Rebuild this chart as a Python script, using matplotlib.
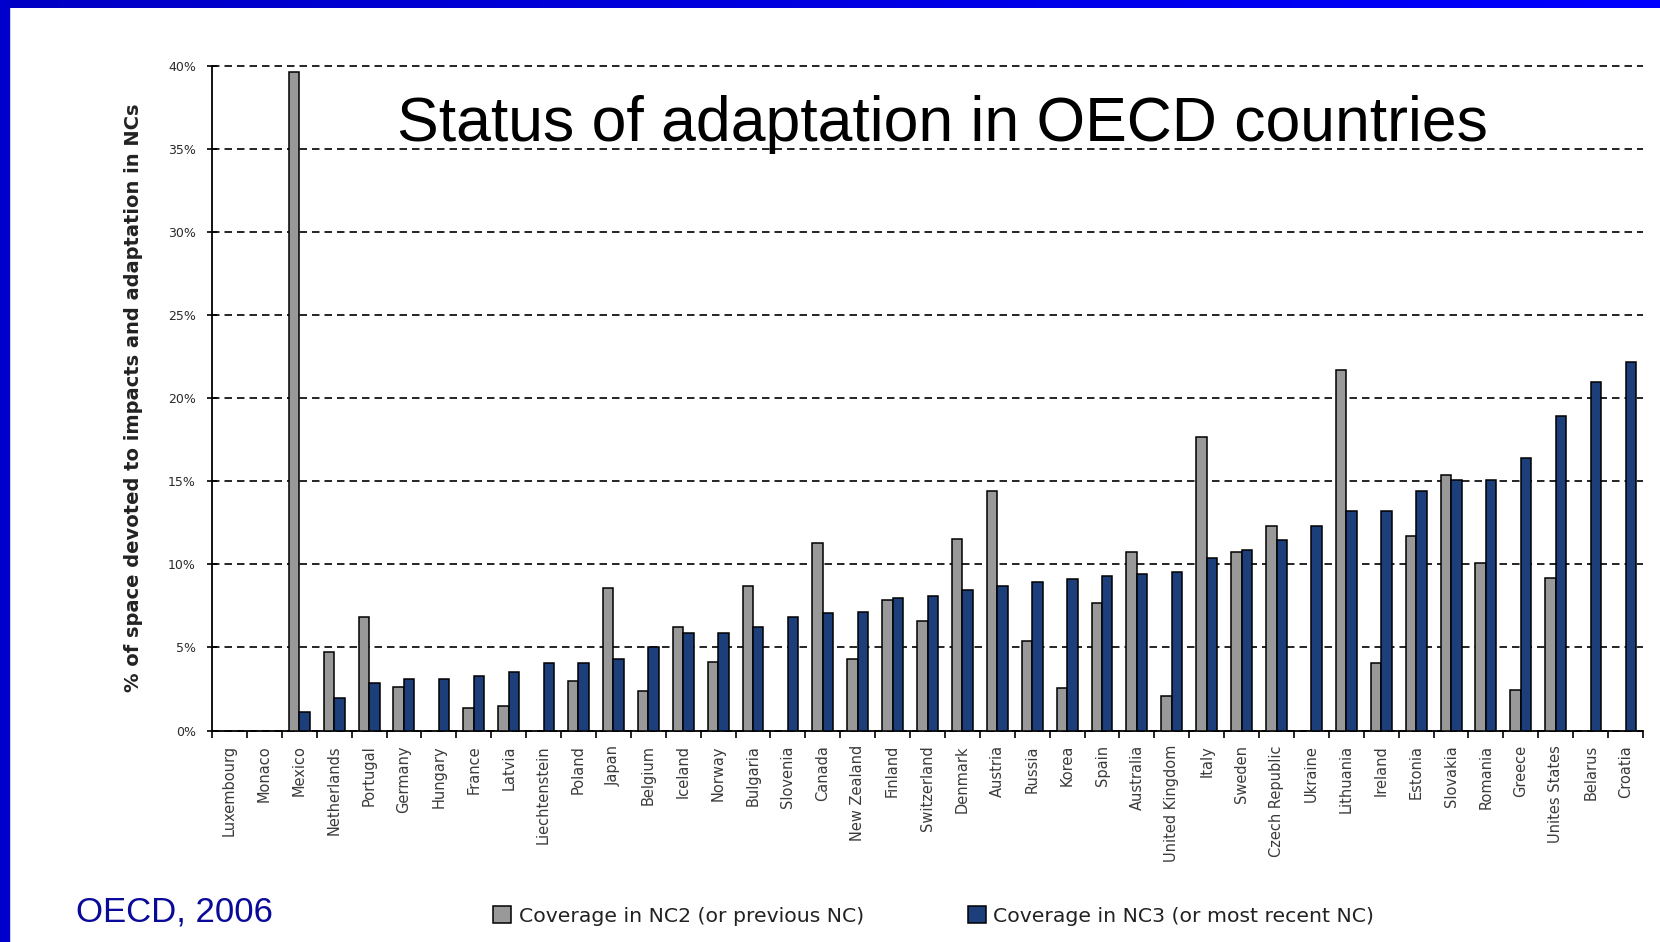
import numpy as np
import matplotlib
matplotlib.use("Agg")
import matplotlib.pyplot as plt
from matplotlib import font_manager
from matplotlib.patches import Rectangle

nan = np.nan

countries = ["Luxembourg", "Monaco", "Mexico", "Netherlands", "Portugal", "Germany",
             "Hungary", "France", "Latvia", "Liechtenstein", "Poland", "Japan",
             "Belgium", "Iceland", "Norway", "Bulgaria", "Slovenia", "Canada",
             "New Zealand", "Finland", "Switzerland", "Denmark", "Austria", "Russia",
             "Korea", "Spain", "Australia", "United Kingdom", "Italy", "Sweden",
             "Czech Republic", "Ukraine", "Lithuania", "Ireland", "Estonia",
             "Slovakia", "Romania", "Greece", "Unites States", "Belarus", "Croatia"]

# % of space devoted to impacts and adaptation
nc2 = [nan, nan, 39.6, 4.7, 6.8, 2.6, nan, 1.35, 1.45, nan, 3.0, 8.6,
       2.35, 6.2, 4.1, 8.7, nan, 11.3, 4.3, 7.85, 6.6, 11.55, 14.4, 5.4,
       2.55, 7.65, 10.75, 2.1, 17.65, 10.75, 12.3, nan, 21.7, 4.07, 11.7,
       15.35, 10.05, 2.45, 9.2, nan, nan]
nc3 = [nan, nan, 1.1, 1.97, 2.88, 3.1, 3.1, 3.25, 3.5, 4.07, 4.07, 4.3,
       5.05, 5.88, 5.88, 6.2, 6.82, 7.05, 7.15, 8.0, 8.12, 8.45, 8.72, 8.95,
       9.1, 9.3, 9.42, 9.53, 10.37, 10.88, 11.45, 12.28, 13.22, 13.22, 14.43,
       15.1, 15.1, 16.42, 18.92, 20.95, 22.15]

y_ticks = [0, 5, 10, 15, 20, 25, 30, 35, 40]
y_ticklabels = [f"{v}%" for v in y_ticks]

series_labels = ["Coverage in NC2 (or previous NC)", "Coverage in NC3 (or most recent NC)"]
title = "Status of adaptation in OECD countries"
ylabel = "% of space devoted to impacts and adaptation in NCs"
source = "OECD, 2006"

# schmale Schrift fuer die Folientexte, falls vorhanden
available = {f.name for f in font_manager.fontManager.ttflist}
narrow = "Liberation Sans Narrow" if "Liberation Sans Narrow" in available else "Liberation Sans"

W, H = 1660, 942
fig = plt.figure(figsize=(W / 100, H / 100), dpi=100)
fig.patch.set_facecolor("white")

# blauer Folienrahmen oben und links
top = fig.add_axes([0, 1 - 8 / H, 1, 8 / H])
top.imshow(np.linspace(0, 1, 256)[None, :], aspect="auto",
           cmap=matplotlib.colors.LinearSegmentedColormap.from_list("b", ["#0000C4", "#0000FF"]))
top.set_axis_off()
fig.patches.append(Rectangle((0, 0), 9 / W, 1, transform=fig.transFigure,
                             color="#0000CC", zorder=5))

ax = fig.add_axes([212 / W, 1 - 730.5 / H, (1643 - 212) / W, (730.5 - 65.6) / H])
x = np.arange(len(countries))
b1 = ax.bar(x - 0.15, nc2, 0.3, color="#999999", edgecolor="black", linewidth=1.1,
            label=series_labels[0], zorder=3)
b2 = ax.bar(x + 0.15, nc3, 0.3, color="#1C3F7C", edgecolor="black", linewidth=1.1,
            label=series_labels[1], zorder=3)

ax.set_xlim(-0.5, len(countries) - 0.5)
ax.set_ylim(0, 40)
ax.set_yticks(y_ticks)
ax.set_yticklabels(y_ticklabels, fontsize=9, color="#2a2a2a")
ax.set_xticks(x)
ax.set_xticklabels(countries, rotation=90, fontsize=10.5, color="#3a3a3a", va="top")
ax.set_xticks(np.arange(-0.5, len(countries)), minor=True)
ax.tick_params(axis="x", which="major", length=0, pad=10.5)
ax.tick_params(axis="x", which="minor", length=5, width=1.2, direction="out")
ax.tick_params(axis="y", length=7, width=1.2, direction="inout", pad=8)

ax.yaxis.grid(True, linestyle=(0, (4.5, 3)), color="black", linewidth=1.2)
for gl in ax.get_ygridlines():
    gl.set_clip_on(False)
ax.set_axisbelow(True)
for s in ["top", "right"]:
    ax.spines[s].set_visible(False)
for s in ["left", "bottom"]:
    ax.spines[s].set_linewidth(1.3)

ax.set_ylabel(ylabel, fontsize=14, fontweight="bold", color="#222222")
ax.yaxis.set_label_coords(-0.048, 0.5)

fig.text(397 / W, 1 - 141 / H, title, fontsize=45, family=narrow, va="baseline")
fig.text(76 / W, 1 - 912 / H, source, fontsize=25, family=narrow, color="#0A0A9A", va="center")

fig.legend(handles=[b1, b2], loc="center left", bbox_to_anchor=(493 / W, 1 - 916 / H),
           ncol=2, frameon=False, fontsize=14.7, handlelength=0.9, handleheight=0.9,
           handletextpad=0.35, columnspacing=5.1, borderpad=0, borderaxespad=0,
           labelcolor="#222222")

fig.savefig("out.png", dpi=100)
